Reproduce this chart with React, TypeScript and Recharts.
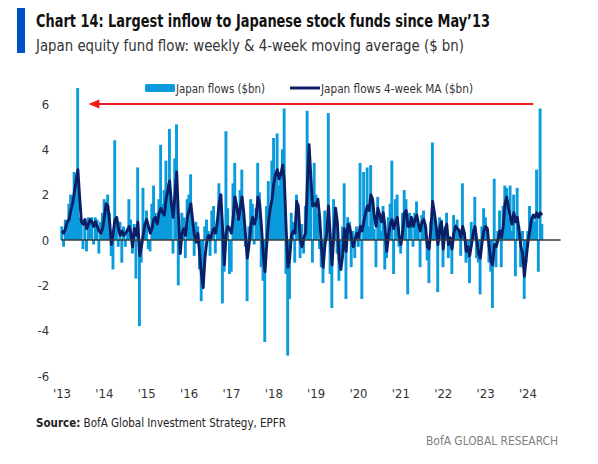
import React from 'react';
import { ComposedChart, Bar, Line, XAxis, YAxis, ReferenceLine, Legend } from 'recharts';

// ---------- data (semi-monthly readings, $bn) ----------
const years = [2013, 2014, 2015, 2016, 2017, 2018, 2019, 2020, 2021, 2022, 2023, 2024];

const flows2013 = [0.6, -0.3, 0.9, 0.8, 1.6, 2.0, 1.7, 3.0, 2.9, 6.7, 1.0, 0.9, -0.4, 0.9, -0.5, 1.0, 0.9, 1.0, -0.2, 1.0, 0.9, -0.6, 0.8, 1.2];
const ma2013 = [0.4, 0.3, 0.5, 0.8, 0.9, 1.3, 1.6, 2.1, 2.6, 3.1, 1.9, 0.8, 0.7, 0.9, 0.5, 0.7, 0.9, 0.8, 0.6, 0.8, 0.6, 0.4, 0.3, 0.5];

const flows2014 = [1.8, 1.5, 2.0, 1.2, -0.7, -1.3, 4.4, 1.0, -0.3, 0.8, -1.0, 0.6, -0.3, 0.5, 1.8, 0.9, -0.6, 0.7, -1.7, 3.2, -3.8, -1.0, 2.3, 0.8];
const ma2014 = [1.0, 1.6, 1.5, 0.8, -0.2, 0.3, 0.9, 1.0, 0.5, 0.2, 0.4, 0.2, 0.3, 0.4, 0.6, 0.3, -0.3, 0.5, 0.2, 0.8, -0.7, -0.3, 0.2, 0.7];

const flows2015 = [1.3, -0.4, -0.5, 1.6, 2.4, 1.2, 0.9, 1.8, 4.2, 1.6, 2.2, 3.5, 2.5, 4.9, 1.5, -0.6, 3.6, 5.1, -2.0, -0.6, 1.2, 1.0, -0.8, 1.8];
const ma2015 = [0.9, 0.6, 0.3, 0.5, 0.9, 1.0, 0.7, 1.2, 1.4, 1.2, 1.1, 1.8, 2.2, 2.6, 1.6, 1.0, 2.0, 3.0, 1.0, -0.6, 0.3, 0.5, 0.2, 1.0];

const flows2016 = [2.0, 2.9, 0.5, -0.7, 0.8, 0.6, -1.3, -2.7, -1.8, 0.6, 0.9, 0.4, -0.7, 1.3, 1.5, -0.6, 0.9, 2.5, 1.8, -2.8, -1.4, 4.8, 1.4, -1.5];
const ma2016 = [1.3, 1.6, 0.9, 0.2, -0.1, 0.3, -0.6, -1.5, -2.1, -0.8, -0.1, 0.2, 0.0, 0.3, 0.5, 0.3, 0.8, 1.6, 2.0, 0.5, -1.1, 0.3, 0.6, 0.5];

const flows2017 = [-1.4, 2.5, 3.4, 1.0, 1.4, 2.2, 3.1, 1.2, -0.3, -2.7, 0.6, 1.8, 1.6, -0.2, 1.4, 3.4, 2.1, -1.2, -1.8, -4.5, 1.5, 2.6, 1.2, 3.5];
const ma2017 = [0.3, 1.0, 1.9, 1.5, 0.9, 1.4, 1.9, 1.2, 0.2, -0.8, -0.2, 0.6, 1.0, 0.7, 1.0, 1.9, 1.6, 0.6, -0.6, -1.4, -0.2, 0.8, 1.4, 1.8];

const flows2018 = [4.5, 3.0, 4.7, 2.4, 3.0, 4.0, 5.8, -1.5, -5.1, -2.6, 1.2, 0.8, -1.0, 2.0, 1.6, -0.8, 0.7, -0.6, 1.5, 5.7, 3.8, 2.5, -1.0, 3.4];
const ma2018 = [2.5, 2.9, 3.1, 2.7, 2.9, 3.3, 2.6, 0.5, -1.2, -0.8, 0.2, 0.4, 0.3, 1.7, 1.4, 0.0, -0.3, 0.1, 0.3, 2.4, 4.2, 2.8, 1.5, 1.6];

const flows2019 = [2.0, 1.2, -0.4, -1.2, -1.9, 1.3, 0.4, 5.6, -1.5, -3.0, 1.8, 1.0, -0.6, -1.8, -1.0, 0.6, 2.5, -2.6, 1.0, 0.8, -1.2, 0.4, -0.8, 0.6];
const ma2019 = [1.5, 1.8, 1.0, -0.3, -1.2, -0.2, 0.3, 1.5, 0.2, -1.1, 0.2, 1.4, 0.8, -0.8, -1.3, -0.7, 0.5, -0.5, 0.7, 0.6, 0.1, -0.3, 0.0, 0.3];

const flows2020 = [-0.3, 3.4, -2.6, 3.0, 1.2, 3.2, 0.6, 3.3, 1.8, 0.5, -1.2, 1.9, 1.2, 0.4, 1.5, -1.3, -0.8, 1.0, 1.6, 3.5, -1.5, 1.8, 2.0, -0.3];
const ma2020 = [0.1, 0.6, 0.4, 0.8, 1.2, 1.5, 1.3, 2.0, 1.8, 1.0, 0.6, 1.4, 1.1, 0.8, 1.2, 0.6, -0.5, 0.2, 0.7, 0.9, 0.5, 0.8, 1.0, 0.2];

const flows2021 = [-0.6, 1.2, 2.2, 1.8, -2.4, 1.2, 0.8, -0.3, 1.2, 1.7, 0.6, -1.2, 1.1, 1.3, 0.5, -0.9, -1.9, 0.8, 4.3, 1.2, 0.6, -2.3, 1.0, 0.9];
const ma2021 = [-0.2, 0.3, 1.2, 1.3, 0.6, 0.6, 1.0, 0.6, 0.9, 1.1, 0.7, 0.4, 0.8, 0.9, 0.6, -0.3, -0.4, 0.5, 1.7, 1.2, 0.6, -0.2, 0.5, 0.8];

const flows2022 = [-1.2, 0.6, 1.2, -0.8, -0.4, -1.5, 1.1, 0.7, 0.9, 0.5, -0.7, 2.5, 0.3, -1.0, -0.8, -1.9, 0.8, 0.5, 1.9, -0.8, -1.0, -2.4, 0.6, 1.4];
const ma2022 = [-0.4, 0.4, 0.7, -0.2, 0.1, -0.4, 0.3, 0.6, 0.5, 0.4, 0.1, 0.6, 0.3, -0.5, -0.3, -0.7, -0.2, 0.3, 0.6, 0.0, -0.6, -0.8, -0.1, 0.4];

const flows2023 = [1.0, 0.4, -1.0, -1.4, -3.0, 2.7, -1.2, 0.4, 1.3, -1.2, 1.5, 2.4, 2.3, 1.0, 2.4, 0.4, 2.0, -1.6, 2.3, 0.6, -1.2, 0.4, -2.6, -1.0];
const ma2023 = [0.6, 0.5, -0.3, -0.9, -1.1, -0.2, -0.3, 0.0, 0.4, 0.1, 0.6, 1.6, 1.9, 1.4, 1.0, 0.7, 1.2, 0.8, 1.0, 0.4, -0.3, -0.6, -1.6, -0.8];

const flows2024 = [0.4, 1.5, 0.8, 1.0, 0.8, 3.1, -1.4, 5.8, 0.7];
const ma2024 = [-0.1, 0.4, 0.9, 1.1, 1.0, 1.2, 1.0, 1.2, 1.1];

const flowsByYear = [flows2013, flows2014, flows2015, flows2016, flows2017, flows2018, flows2019, flows2020, flows2021, flows2022, flows2023, flows2024];
const maByYear = [ma2013, ma2014, ma2015, ma2016, ma2017, ma2018, ma2019, ma2020, ma2021, ma2022, ma2023, ma2024];

const yTicks = [-6, -4, -2, 0, 2, 4, 6];
const seriesNames = ['Japan flows ($bn)', 'Japan flows 4-week MA ($bn)'];
const trailingEmptyPeriods = 10;
// annotation arrow: from latest spike back to May'13 level
const arrowLevel = 6;
const arrowFrom = { year: 2013, period: 15 };
const arrowTo = { year: 2024, period: 3 };

// ---------- build table ----------
const periodLabel = (year: number, k: number) => {
  const m = Math.floor(k / 2) + 1;
  return `${year}-${String(m).padStart(2, '0')}${k % 2 === 0 ? 'a' : 'b'}`;
};

const rows: { period: string; flow: number | null; ma: number | null }[] = [];
years.forEach((y, yi) => {
  flowsByYear[yi].forEach((f, k) => {
    rows.push({ period: periodLabel(y, k), flow: f, ma: maByYear[yi][k] });
  });
});
for (let j = 0; j < trailingEmptyPeriods; j++) {
  rows.push({ period: periodLabel(2024, flows2024.length + j), flow: null, ma: null });
}
const xTicks = years.map((y) => periodLabel(y, 0));

const FONT = "'DejaVu Sans Condensed', 'Liberation Sans Narrow', 'DejaVu Sans', sans-serif";
const LIGHT_BLUE = '#0A9BDC';
const NAVY = '#0C1F66';
const RED = '#F01A1A';

const ArrowShape = (props: any) => {
  const { x1, y1, x2, y2 } = props;
  if ([x1, y1, x2, y2].some((v) => typeof v !== 'number' || isNaN(v))) return null;
  const head = 11;
  return (
    <g>
      <line x1={x1 + head - 1} y1={y1} x2={x2} y2={y2} stroke={RED} strokeWidth={2} />
      <polygon points={`${x1},${y1} ${x1 + head},${y1 - 4.5} ${x1 + head},${y1 + 4.5}`} fill={RED} />
    </g>
  );
};

const FlowBar = (props: any) => {
  const { x, y, width, height, fill } = props;
  if ([x, y, width, height].some((v) => typeof v !== 'number' || isNaN(v))) return null;
  const w = 2.9;
  const top = Math.min(y, y + height);
  const h = Math.abs(height);
  return <rect x={x + width / 2 - w / 2} y={top} width={w} height={h} fill={fill} />;
};

// text squeezed horizontally to the reference's condensed face
const SqText = ({ x, y, sx, width, children, ...rest }: any) => (
  <text
    transform={`translate(${x},${y}) scale(${sx},1)`}
    textLength={width / sx}
    lengthAdjust="spacingAndGlyphs"
    fontFamily={FONT}
    {...rest}
  >
    {children}
  </text>
);

const LegendContent = () => (
  <svg width={360} height={16} style={{ display: 'block', overflow: 'visible' }}>
    <rect x={5} y={4} width={30} height={8} rx={1.5} fill={LIGHT_BLUE} />
    <SqText x={36} y={12.5} sx={0.84} width={89} fontSize={12.5} fill="#333">
      {seriesNames[0]}
    </SqText>
    <line x1={150} y1={8} x2={180} y2={8} stroke={NAVY} strokeWidth={3} />
    <SqText x={181} y={12.5} sx={0.88} width={152} fontSize={12.5} fill="#333">
      {seriesNames[1]}
    </SqText>
  </svg>
);

export default function App() {
  return (
    <div style={{ position: 'absolute', left: 0, top: 0, width: 598, height: 464, background: '#fff', fontFamily: FONT }}>
      <div style={{ position: 'absolute', left: 0, top: 0 }}>
        <ComposedChart
          width={598}
          height={420}
          data={rows}
          margin={{ top: 81.3, right: 37.4, bottom: 14, left: 11.1 }}
        >
          <XAxis
            dataKey="period"
            ticks={xTicks}
            interval={0}
            axisLine={false}
            tickLine={false}
            tickMargin={7}
            height={30}
            tick={{ fontSize: 13, fill: '#333', fontFamily: FONT }}
            tickFormatter={(v: string) => `'${v.slice(2, 4)}`}
          />
          <YAxis
            type="number"
            domain={[-6, 7]}
            ticks={yTicks}
            width={50}
            axisLine={false}
            tickLine={false}
            tickMargin={6}
            tick={{ fontSize: 13, fill: '#333', fontFamily: FONT }}
          />
          <Legend
            layout="horizontal"
            verticalAlign="middle"
            align="center"
            wrapperStyle={{ top: 80, left: 140, width: 360, height: 16 }}
            content={() => <LegendContent />}
          />
          <Bar dataKey="flow" name={seriesNames[0]} fill={LIGHT_BLUE} shape={FlowBar} isAnimationActive={false} />
          <Line
            dataKey="ma"
            name={seriesNames[1]}
            type="linear"
            stroke={NAVY}
            strokeWidth={2.9}
            strokeLinejoin="round"
            dot={false}
            activeDot={false}
            isAnimationActive={false}
          />
          <ReferenceLine y={0} stroke="#3a3a3a" strokeWidth={1.4} />
          <ReferenceLine
            segment={[
              { x: periodLabel(arrowFrom.year, arrowFrom.period), y: arrowLevel },
              { x: periodLabel(arrowTo.year, arrowTo.period), y: arrowLevel },
            ]}
            stroke={RED}
            shape={ArrowShape}
          />
        </ComposedChart>
      </div>
      <svg width={598} height={464} style={{ position: 'absolute', left: 0, top: 0, pointerEvents: 'none' }}>
        <rect x={17} y={8} width={8} height={45} fill="#0050C8" />
        <SqText x={36} y={27} sx={0.74} width={454} fontSize={18.5} fontWeight="bold" fill="#111">
          Chart 14: Largest inflow to Japanese stock funds since May’13
        </SqText>
        <SqText x={36} y={51} sx={0.85} width={428} fontSize={16.5} fill="#333">
          Japan equity fund flow: weekly &amp; 4-week moving average ($ bn)
        </SqText>
        <SqText x={36} y={427} sx={0.88} width={250} fontSize={12.5} fill="#222">
          <tspan fontWeight="bold">Source:</tspan> BofA Global Investment Strategy, EPFR
        </SqText>
        <SqText x={426} y={445} sx={0.82} width={132} fontSize={13} fill="#808080">
          BofA GLOBAL RESEARCH
        </SqText>
      </svg>
    </div>
  );
}
